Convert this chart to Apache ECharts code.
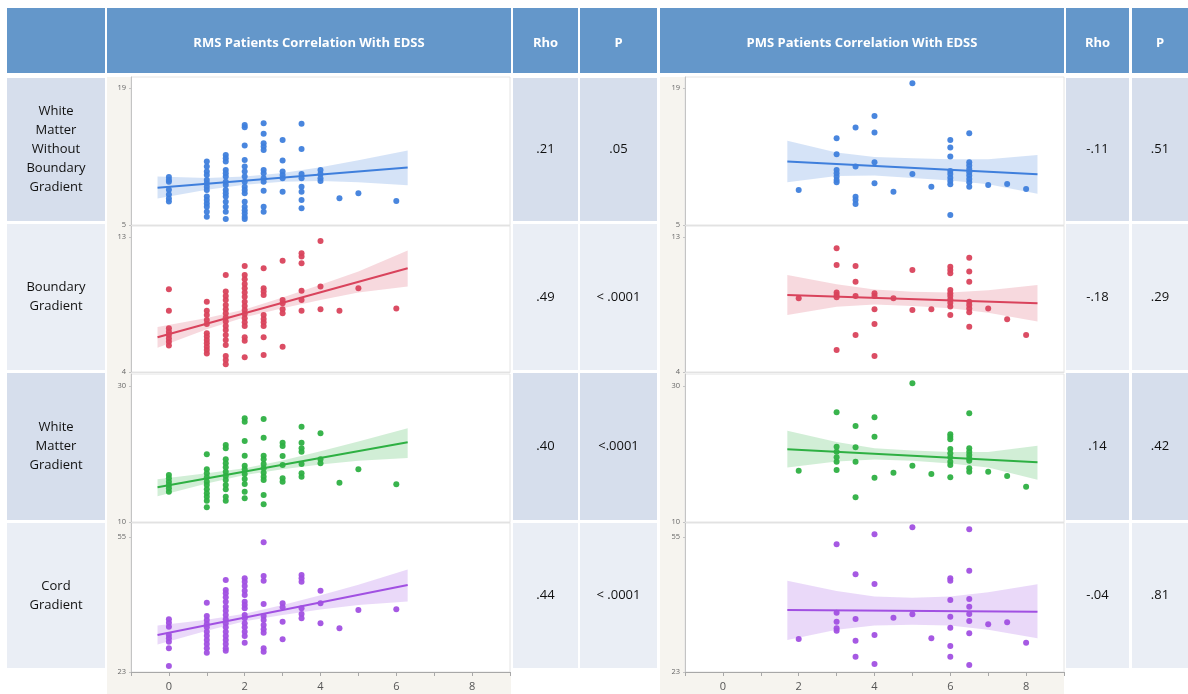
<!DOCTYPE html>
<html>
<head>
<meta charset="utf-8">
<script src="https://cdn.jsdelivr.net/npm/echarts@6/dist/echarts.min.js"></script>
<style>
  html, body { margin: 0; padding: 0; background: #ffffff; }
  #chart { width: 1188px; height: 694px; }
</style>
</head>
<body>
<div id="chart"></div>
<script>
// ---------- table text ----------
const groupTitles = ['RMS Patients Correlation With EDSS', 'PMS Patients Correlation With EDSS'];
const statHeaders = ['Rho', 'P'];
const rowLabels = [
  'White\nMatter\nWithout\nBoundary\nGradient',
  'Boundary\nGradient',
  'White\nMatter\nGradient',
  'Cord\nGradient'
];
const rmsRho = ['.21', '.49', '.40', '.44'];
const rmsP = ['.05', '< .0001', '<.0001', '< .0001'];
const pmsRho = ['-.11', '-.18', '.14', '-.04'];
const pmsP = ['.51', '.29', '.42', '.81'];

// ---------- axes ----------
const edssTicks = [0, 2, 4, 6, 8];
const yLabelValues = [[5, 19], [4, 13], [10, 30], [23, 55]];
const yAxisTops = [20.1, 13.73, 31.76, 58.3];

// ---------- scatter values: [EDSS, [measurements]] ----------
const rmsWmwbPts = [
  [0, [9.9, 9.6, 9.4, 8.6, 8.1, 7.7, 7.4]],
  [1, [11.47, 10.96, 10.45, 10.1, 9.6, 9.26, 8.9, 8.57, 7.9, 7.55, 7.2, 6.87, 6.36, 5.85]],
  [1.5, [12.15, 11.8, 11.47, 10.62, 10.28, 9.94, 9.42, 9.09, 8.57, 8.23, 7.9, 7.38, 6.87, 6.36, 5.6]],
  [2, [15.2, 14.98, 13.1, 11.64, 10.96, 10.45, 9.94, 9.42, 8.9, 8.57, 8.23, 7.38, 6.87, 6.5, 6.19, 5.85, 5.6]],
  [2.5, [15.39, 14.3, 13.34, 13.0, 12.66, 10.62, 10.28, 9.77, 9.42, 8.5, 6.87, 6.36]],
  [3, [13.68, 11.57, 10.45, 10.1, 9.77, 8.4]],
  [3.5, [15.32, 12.76, 10.2, 9.77, 8.9, 8.4, 7.55, 6.7]],
  [4, [10.62, 10.2, 9.77, 9.5]],
  [4.5, [7.72]],
  [5, [8.23]],
  [6, [7.45]]
];
const rmsBgPts = [
  [0, [9.51, 8.09, 6.91, 6.69, 6.47, 6.24, 6.02, 5.76]],
  [1, [8.69, 8.09, 7.8, 7.47, 7.2, 6.58, 6.36, 6.13, 5.91, 5.69, 5.47, 5.24]],
  [1.5, [10.47, 9.36, 9.07, 8.8, 8.47, 8.18, 7.91, 7.64, 7.36, 7.07, 6.8, 6.47, 6.13, 5.8, 5.07, 4.8, 4.51]],
  [2, [11.07, 10.47, 10.18, 9.87, 9.58, 9.29, 9.02, 8.69, 8.4, 8.13, 7.87, 7.58, 7.31, 7.07, 6.31, 6.09, 4.98]],
  [2.5, [10.91, 9.58, 9.36, 9.13, 7.8, 7.53, 7.31, 7.07, 6.31, 5.13]],
  [3, [11.42, 8.8, 8.58, 8.18, 7.91, 5.69]],
  [3.5, [11.91, 11.69, 11.24, 9.42, 8.8, 8.09]],
  [4, [12.73, 9.69, 8.18]],
  [4.5, [8.09]],
  [5, [9.58]],
  [6, [8.24]]
];
const rmsWmPts = [
  [0, [16.91, 16.42, 15.93, 15.44, 14.96, 14.46]],
  [1, [19.95, 17.75, 17.16, 16.57, 15.93, 15.44, 14.81, 14.22, 13.73, 13.13, 12.16]],
  [1.5, [21.32, 20.83, 19.22, 18.63, 18.04, 17.4, 16.76, 16.18, 15.44, 14.81, 13.73, 13.13]],
  [2, [25.25, 24.75, 21.91, 19.75, 18.28, 17.75, 17.06, 16.32, 15.59, 14.46, 13.48]],
  [2.5, [25.15, 22.4, 19.75, 19.22, 18.53, 17.9, 17.25, 16.66, 16.18, 13.97, 12.6]],
  [3, [21.66, 21.18, 19.7, 18.38, 16.42, 15.93]],
  [3.5, [24.02, 21.66, 20.83, 20.34, 18.53, 17.16, 16.66]],
  [4, [23.04, 19.22, 18.63]],
  [4.5, [15.78]],
  [5, [17.75]],
  [6, [15.54]]
];
const rmsCordPts = [
  [0, [35.48, 34.69, 33.74, 31.77, 30.98, 30.19, 28.6, 24.42]],
  [1, [39.43, 36.27, 35.32, 34.37, 33.59, 32.56, 31.6, 30.58, 29.64, 28.6, 27.58]],
  [1.5, [44.8, 42.43, 41.65, 40.7, 39.66, 38.47, 37.53, 36.51, 35.48, 34.53, 33.59, 32.56, 31.53, 30.58, 29.64, 28.6, 28.05]],
  [2, [45.2, 44.4, 43.38, 42.27, 41.25, 39.66, 38.88, 38.09, 36.51, 35.72, 34.53, 33.59, 32.56, 31.53, 29.95]],
  [2.5, [53.73, 45.75, 44.64, 39.11, 36.27, 35.32, 34.14, 33.11, 32.32, 28.6, 27.82]],
  [3, [39.27, 38.33, 34.92, 30.74]],
  [3.5, [45.99, 45.2, 44.4, 38.09, 36.74, 35.72]],
  [4, [42.27, 39.27, 34.53]],
  [4.5, [33.36]],
  [5, [37.69]],
  [6, [37.85]]
];
const pmsWmwbPts = [
  [2, [8.58]],
  [3, [13.85, 12.22, 10.62, 10.28, 9.94, 9.6, 9.36]],
  [3.5, [14.94, 10.96, 7.89, 7.55, 7.15]],
  [4, [16.13, 14.43, 11.4, 9.26]],
  [4.5, [8.4]],
  [5, [19.47, 10.21]],
  [5.5, [8.91]],
  [6, [13.68, 12.9, 11.98, 10.52, 10.21, 9.83, 9.49, 9.15, 6.02]],
  [6.5, [14.36, 11.4, 11.06, 10.72, 10.38, 10.04, 9.7, 9.36, 8.91]],
  [7, [9.09]],
  [7.5, [9.19]],
  [8, [8.68]]
];
const pmsBgPts = [
  [2, [8.91]],
  [3, [12.24, 11.13, 9.29, 9.13, 8.98, 5.47]],
  [3.5, [11.07, 10.02, 9.07, 6.47]],
  [4, [9.24, 9.07, 8.18, 7.2, 5.07]],
  [4.5, [8.91]],
  [5, [10.8, 8.13]],
  [5.5, [8.18]],
  [6, [11.02, 10.8, 10.58, 9.47, 9.24, 9.07, 8.84, 8.62, 8.36, 7.8]],
  [6.5, [11.62, 10.69, 10.02, 8.69, 8.47, 8.24, 7.98, 7.02]],
  [7, [8.24]],
  [7.5, [7.51]],
  [8, [6.47]]
];
const pmsWmPts = [
  [2, [17.55]],
  [3, [26.13, 21.08, 20.34, 19.51, 18.87, 17.65]],
  [3.5, [24.12, 20.98, 18.87, 13.63]],
  [4, [25.39, 22.55, 16.52]],
  [4.5, [17.25]],
  [5, [30.39, 18.28]],
  [5.5, [17.06]],
  [6, [22.89, 22.55, 22.16, 20.74, 20.1, 19.51, 18.87, 18.38, 16.57]],
  [6.5, [25.98, 20.83, 20.34, 19.85, 19.36, 19.02, 17.9, 17.4]],
  [7, [17.4]],
  [7.5, [16.76]],
  [8, [15.19]]
];
const pmsCordPts = [
  [2, [30.82]],
  [3, [53.25, 37.06, 34.93, 33.36, 32.79]],
  [3.5, [46.14, 35.56, 30.42, 26.63]],
  [4, [55.63, 43.85, 31.77, 24.9]],
  [4.5, [35.88]],
  [5, [57.29, 36.67]],
  [5.5, [30.98]],
  [6, [45.2, 44.64, 40.06, 36.1, 33.5, 29.16, 26.63]],
  [6.5, [56.81, 47.0, 40.3, 38.47, 36.74, 35.09, 32.16, 24.66]],
  [7, [34.3]],
  [7.5, [34.78]],
  [8, [29.95]]
];

// ---------- fitted lines: [EDSS, value] end points ----------
const rmsWmwbFit = [[-0.3, 8.81], [6.3, 10.86]];
const rmsBgFit = [[-0.3, 6.31], [6.3, 10.91]];
const rmsWmFit = [[-0.3, 15.1], [6.3, 21.72]];
const rmsCordFit = [[-0.3, 31.77], [6.3, 43.62]];
const pmsWmwbFit = [[1.7, 11.47], [8.3, 10.17]];
const pmsBgFit = [[1.7, 9.13], [8.3, 8.58]];
const pmsWmFit = [[1.7, 20.69], [8.3, 18.78]];
const pmsCordFit = [[1.7, 37.69], [8.3, 37.3]];

// ---------- confidence bands: [EDSS, lower, upper] ----------
const rmsWmwbBand = [[-0.3, 7.7, 9.95], [1, 8.6, 9.8], [2, 9.1, 9.95], [3, 9.4, 10.3], [4, 9.5, 10.9], [5, 9.35, 11.6], [6.3, 9.05, 12.6]];
const rmsBgBand = [[-0.3, 5.62, 7.0], [1, 6.85, 7.6], [2, 7.65, 8.17], [3, 8.25, 8.97], [4, 8.8, 9.82], [5, 9.3, 10.7], [6.3, 9.7, 12.1]];
const rmsWmBand = [[-0.3, 13.8, 16.3], [1, 15.65, 17.15], [2, 16.9, 17.9], [3, 17.75, 19.05], [4, 18.45, 20.4], [5, 19.0, 21.85], [6.3, 19.4, 23.8]];
const rmsCordBand = [[-0.3, 29.5, 34.0], [1, 32.8, 35.4], [2, 35.0, 36.8], [3, 36.5, 38.9], [4, 37.8, 41.2], [5, 38.9, 43.7], [6.3, 39.7, 47.3]];
const pmsWmwbBand = [[1.7, 9.35, 13.6], [3, 10.0, 12.4], [4, 10.05, 11.95], [5, 9.8, 11.8], [6, 9.55, 11.7], [7, 9.15, 11.7], [8.3, 8.2, 12.15]];
const pmsBgBand = [[1.7, 7.8, 10.47], [3, 8.35, 9.85], [4, 8.5, 9.5], [5, 8.4, 9.35], [6, 8.25, 9.3], [7, 7.95, 9.45], [8.3, 7.36, 9.8]];
const pmsWmBand = [[1.7, 18.0, 23.4], [3, 18.9, 21.75], [4, 19.2, 20.85], [5, 19.0, 20.5], [6, 18.6, 20.3], [7, 18.0, 20.3], [8.3, 16.2, 21.2]];
const pmsCordBand = [[1.7, 30.6, 44.6], [3, 33.0, 42.2], [4, 34.0, 40.9], [5, 34.2, 40.6], [6, 34.0, 40.9], [7, 33.0, 41.9], [8.3, 31.0, 43.8]];

// ---------- assembling the panels ----------
const rowColors = [
  { dot: '#3f7fdc', band: 'rgba(63,127,220,0.22)' },
  { dot: '#d9435c', band: 'rgba(217,67,92,0.2)' },
  { dot: '#2eb043', band: 'rgba(46,176,67,0.22)' },
  { dot: '#a150e2', band: 'rgba(161,80,226,0.22)' }
];
const panelSets = [
  { pts: [rmsWmwbPts, rmsBgPts, rmsWmPts, rmsCordPts], fit: [rmsWmwbFit, rmsBgFit, rmsWmFit, rmsCordFit], band: [rmsWmwbBand, rmsBgBand, rmsWmBand, rmsCordBand] },
  { pts: [pmsWmwbPts, pmsBgPts, pmsWmPts, pmsCordPts], fit: [pmsWmwbFit, pmsBgFit, pmsWmFit, pmsCordFit], band: [pmsWmwbBand, pmsBgBand, pmsWmBand, pmsCordBand] }
];

// layout of the table (pixels)
const plotLeft = [131, 685];
const plotWidth = 379;
const panelY = [[77, 225], [226, 372], [374, 522], [523, 672]];
const cellRows = [[78, 221], [224, 370], [373, 520], [523, 668]];
const headerY = [8, 73];
const darkCell = '#d6deec';
const lightCell = '#eaeef5';
const headBlue = '#6497ca';
const strip = '#f6f4ef';
const font = '"Open Sans", "Liberation Sans", sans-serif';

const grids = [], xAxes = [], yAxes = [], series = [];
let gi = 0;
for (let s = 0; s < 2; s++) {
  for (let r = 0; r < 4; r++) {
    const bottomRow = r === 3;
    grids.push({
      left: plotLeft[s], width: plotWidth,
      top: panelY[r][0], height: panelY[r][1] - panelY[r][0],
      show: true, backgroundColor: '#ffffff', borderColor: '#e4e4e4', borderWidth: 1
    });
    xAxes.push({
      type: 'value', gridIndex: gi, min: -1, max: 9, interval: 1, z: 5,
      axisLine: { show: true, onZero: false, lineStyle: { color: bottomRow ? '#a8a8a8' : '#e2e2e2', width: 1 } },
      axisTick: { show: bottomRow, length: 4, lineStyle: { color: '#a8a8a8' } },
      axisLabel: {
        show: bottomRow, margin: 9, fontSize: 11, color: '#555', fontFamily: font,
        formatter: v => (edssTicks.indexOf(v) >= 0 ? String(v) : '')
      },
      splitLine: { show: false }
    });
    yAxes.push({
      type: 'value', gridIndex: gi, min: yLabelValues[r][0], max: yAxisTops[r], z: 5,
      axisLine: { show: true, onZero: false, lineStyle: { color: '#c4c4c4' } },
      axisTick: { show: true, length: 2, customValues: yLabelValues[r], lineStyle: { color: '#c4c4c4' } },
      axisLabel: { show: true, customValues: yLabelValues[r], fontSize: 7.5, color: '#666', margin: 5, fontFamily: font },
      splitLine: { show: false }
    });
    const band = panelSets[s].band[r];
    const col = rowColors[r];
    series.push({
      type: 'custom', xAxisIndex: gi, yAxisIndex: gi, silent: true, z: 1,
      data: [[band[0][0], band[0][1]]],
      renderItem: (params, api) => {
        const upper = band.map(b => api.coord([b[0], b[2]]));
        const lower = band.map(b => api.coord([b[0], b[1]])).reverse();
        return { type: 'polygon', shape: { points: upper.concat(lower) }, style: { fill: col.band } };
      }
    });
    series.push({
      type: 'line', xAxisIndex: gi, yAxisIndex: gi, silent: true, z: 2,
      data: panelSets[s].fit[r], showSymbol: false,
      lineStyle: { color: col.dot, width: 2 }
    });
    const flat = [];
    panelSets[s].pts[r].forEach(g => g[1].forEach(v => flat.push([g[0], v])));
    series.push({
      type: 'scatter', xAxisIndex: gi, yAxisIndex: gi, z: 3,
      data: flat, symbol: 'circle', symbolSize: 6,
      itemStyle: { color: col.dot, opacity: 0.95 }
    });
    gi++;
  }
}

// ---------- table cells ----------
const graphics = [];
function cell(x, y, w, h, fill) {
  graphics.push({ type: 'rect', z: -2, shape: { x, y, width: w, height: h }, style: { fill } });
}
function label(text, cx, cy, opts) {
  graphics.push({
    type: 'text', z: 10, x: cx, y: cy,
    style: Object.assign({
      text, align: 'center', verticalAlign: 'middle',
      fontFamily: font, fontSize: 13, fill: '#111111', lineHeight: 19
    }, opts || {})
  });
}
const headCols = [[7, 98], [107, 404], [513, 65], [580, 77], [660, 404], [1066, 63], [1132, 56]];
headCols.forEach(c => cell(c[0], headerY[0], c[1], headerY[1] - headerY[0], headBlue));
const headText = ['', groupTitles[0], statHeaders[0], statHeaders[1], groupTitles[1], statHeaders[0], statHeaders[1]];
const headStyle = { fill: '#ffffff', fontWeight: 'bold', fontSize: 13 };
headCols.forEach((c, i) => { if (headText[i]) label(headText[i], c[0] + c[1] / 2, 43, headStyle); });

// axis strips
cell(107, 77, 24, 617, strip);
cell(107, 672, 404, 22, strip);
cell(660, 77, 25, 617, strip);
cell(660, 672, 404, 22, strip);

const statCols = [[513, 65, rmsRho], [580, 77, rmsP], [1066, 63, pmsRho], [1132, 56, pmsP]];
cellRows.forEach((rw, r) => {
  const fill = r % 2 === 0 ? darkCell : lightCell;
  const h = rw[1] - rw[0];
  const cy = (rw[0] + rw[1]) / 2;
  cell(7, rw[0], 98, h, fill);
  label(rowLabels[r], 56, cy);
  statCols.forEach(c => {
    cell(c[0], rw[0], c[1], h, fill);
    label(c[2][r], c[0] + c[1] / 2, cy);
  });
});

const chart = echarts.init(document.getElementById('chart'), null, { renderer: 'canvas' });
chart.setOption({
  animation: false,
  backgroundColor: '#ffffff',
  grid: grids,
  xAxis: xAxes,
  yAxis: yAxes,
  series: series,
  graphic: { elements: graphics }
});
</script>
</body>
</html>
